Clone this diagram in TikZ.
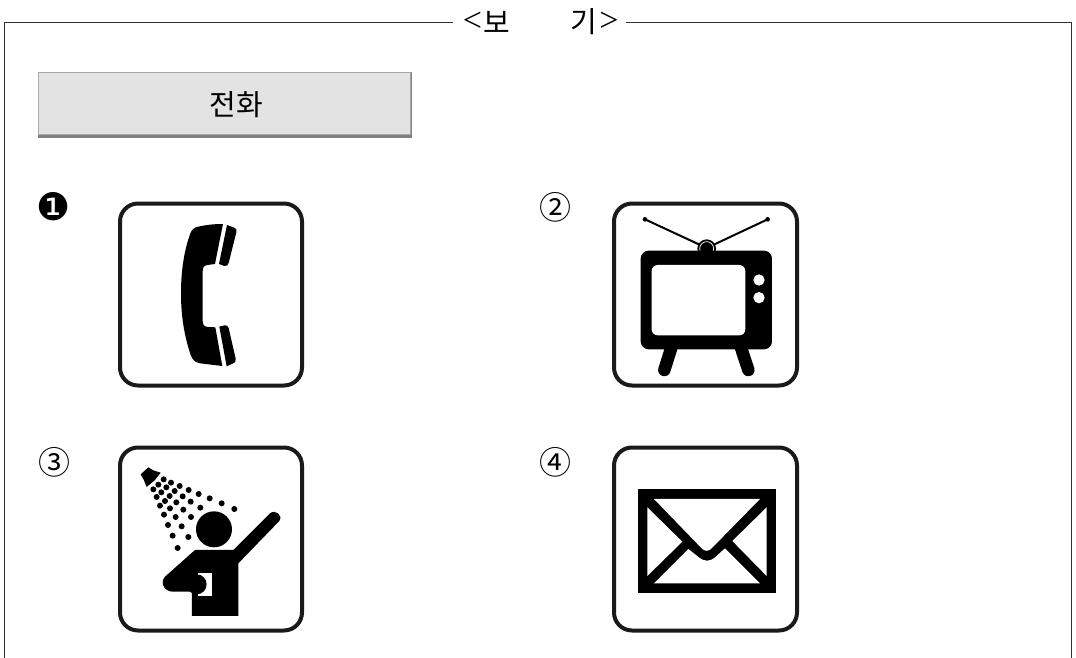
\documentclass[tikz,border=0pt]{standalone}
\usepackage{fontspec}
\newfontfamily\krfont{Noto Sans CJK KR}
\newfontfamily\symfont{DejaVu Sans}
\newfontfamily\serfont{Liberation Serif}
\definecolor{framecol}{HTML}{303030}
\definecolor{btnfill}{HTML}{E3E3E3}
\definecolor{btnlight}{HTML}{A8A8A8}
\definecolor{btndark}{HTML}{808080}
\definecolor{iconcol}{HTML}{1A1A1A}
\tikzset{
  iconbox/.style={draw=iconcol,line width=4pt,rounded corners=18pt,fill=white},
  ink/.style={fill=black,draw=none},
  blank/.style={fill=white,draw=none},
  numlabel/.style={inner sep=0pt,font=\krfont\fontsize{32}{32}\selectfont},
  titlepart/.style={inner sep=0pt,font=\krfont\fontsize{29}{29}\selectfont},
  titlemark/.style={inner sep=0pt,font=\serfont\fontsize{34}{34}\selectfont},
  zoomed/.style={x=0.3333pt,y=-0.3333pt}
}
\begin{document}
\begin{tikzpicture}[x=1pt,y=-1pt]
\useasboundingbox (0,0) rectangle (1076,658);
% frame
\coordinate (fa) at (4,658);
\coordinate (fb) at (4,22.5);
\coordinate (fc) at (1071.5,22.5);
\coordinate (fd) at (1071.5,658);
\coordinate (fl) at (453,22.5);
\coordinate (fr) at (626,22.5);
\node[titlemark] (tl) at (472.5,22) {<};
\node[titlepart] (tb) at (497,22) {보};
\node[titlepart] (tg) at (584,22) {기};
\node[titlemark] (tr) at (609,22) {>};
\draw[framecol,line width=0.9pt] (fa) -- (fb) -- (fl);
\draw[framecol,line width=0.9pt] (fr) -- (fc) -- (fd);
% button
\fill[btndark] (38,72) rectangle (412,138);
\node[draw=btnlight,line width=1pt,fill=btnfill,minimum width=372pt,minimum height=62.5pt,inner sep=0pt] (btn) at (224.5,103.5) {};
\node[inner sep=0pt,font=\krfont\fontsize{29}{29}\selectfont] (btntext) at (236.5,105) {전화};
% labels
\node[inner sep=0pt,font=\symfont\fontsize{38}{38}\selectfont] (n1) at (54,207) {❶};
\node[numlabel] (n2) at (555,207) {②};
\node[numlabel] (n3) at (54.5,462) {③};
\node[numlabel] (n4) at (555,462) {④};
% boxes
\draw[iconbox] (120,203.5) rectangle (302,385.5);
\draw[iconbox] (614,203.5) rectangle (797,385.5);
\draw[iconbox] (120,447.5) rectangle (302,630.5);
\draw[iconbox] (614,447.5) rectangle (797,630.5);
% phone
\begin{scope}[shift={(100,190)},zoomed]
\fill[ink] (369,102) -- (345,222) -- (322,225) .. controls (311,227) and (308,233) .. (308,245)
  -- (308,392) .. controls (308,404) and (312,410) .. (324,411) -- (346,412) -- (367,528)
  -- (300,520) .. controls (285,517) and (278,510) .. (272,495)
  .. controls (252,435) and (243,375) .. (243,310)
  .. controls (243,245) and (252,180) .. (272,128)
  .. controls (276,118) and (284,112) .. (295,110)
  .. controls (320,104) and (345,102) .. (369,102) -- cycle;
\fill[ink] (381,105) -- (403,113) .. controls (410,116) and (411,121) .. (409,127)
  -- (386,219) .. controls (384,226) and (380,229) .. (373,228) -- (357,222) -- cycle;
\fill[ink] (358,410) -- (374,406) .. controls (380,405) and (384,408) .. (386,414)
  -- (407,506) .. controls (408,513) and (406,518) .. (400,520) -- (380,529) -- cycle;
\end{scope}
% tv
\begin{scope}[shift={(600,190)},zoomed]
\draw[black,line width=2pt] (135,88) -- (305,167);
\draw[black,line width=2pt] (503,88) -- (335,167);
\fill[ink] (135,88) circle[radius=7];
\fill[ink] (503,88) circle[radius=7];
\fill[ink] (320,176) circle[radius=28];
\draw[white,line width=0.7pt] (320,176) circle[radius=21];
\fill[ink,rounded corners=8pt] (122,182) rectangle (516,478);
\fill[blank,rounded corners=6pt] (155,225) rectangle (436,436);
\fill[blank] (477,270) circle[radius=17];
\fill[blank] (477,323) circle[radius=17];
\draw[black,line width=12.5pt,line cap=round] (215,470) -- (193,540);
\draw[black,line width=12.5pt,line cap=round] (422,470) -- (445,540);
\end{scope}
% shower
\begin{scope}[shift={(100,435)},zoomed]
\fill[ink] (122,118) -- (145,97) -- (160,106) -- (182,113) -- (165,135) -- (140,156) -- (131,134) -- cycle;
\foreach \p in {(191,133),(213,143),(239,153),(266,165),(296,177),(329,190),(365,205),(403,222),
  (175,149),(199,157),(224,168),(248,184),(272,200),(301,218),
  (160,163),(184,172),(209,183),(229,202),(250,224),(273,246),
  (170,186),(195,198),(180,212),(210,220),(192,239),(227,246),
  (204,270),(245,274),(218,302),(265,306),(233,339)}
  {\fill[ink] \p circle[radius=9];}
\fill[ink] (342,283) circle[radius=54];
\fill[ink] (285,345) -- (400,345) -- (510,235) .. controls (525,222) and (550,240) .. (538,258)
  -- (415,385) -- (415,543) -- (276,543) -- (276,470) -- (218,470)
  .. controls (195,470) and (178,445) .. (195,425) -- cycle;
\fill[blank] (295,414) -- (335,414) -- (335,482) -- (295,482) -- cycle;
\fill[ink] (290,448) circle[radius=30];
\fill[ink] (276,420) rectangle (295,476);
\end{scope}
% mail
\begin{scope}[shift={(600,435)},zoomed]
\fill[ink] (113,163) rectangle (529,475);
\fill[blank] (162,192) -- (480,192) -- (335,340) .. controls (325,350) and (315,350) .. (305,340) -- cycle;
\fill[blank] (142,217) -- (247,320) -- (142,423) -- cycle;
\fill[blank] (500,217) -- (397,318) -- (500,423) -- cycle;
\fill[blank] (162,445) -- (265,342) -- (298,368) .. controls (312,380) and (330,380) .. (344,368)
  -- (375,340) -- (480,445) -- cycle;
\end{scope}
\end{tikzpicture}
\end{document}
